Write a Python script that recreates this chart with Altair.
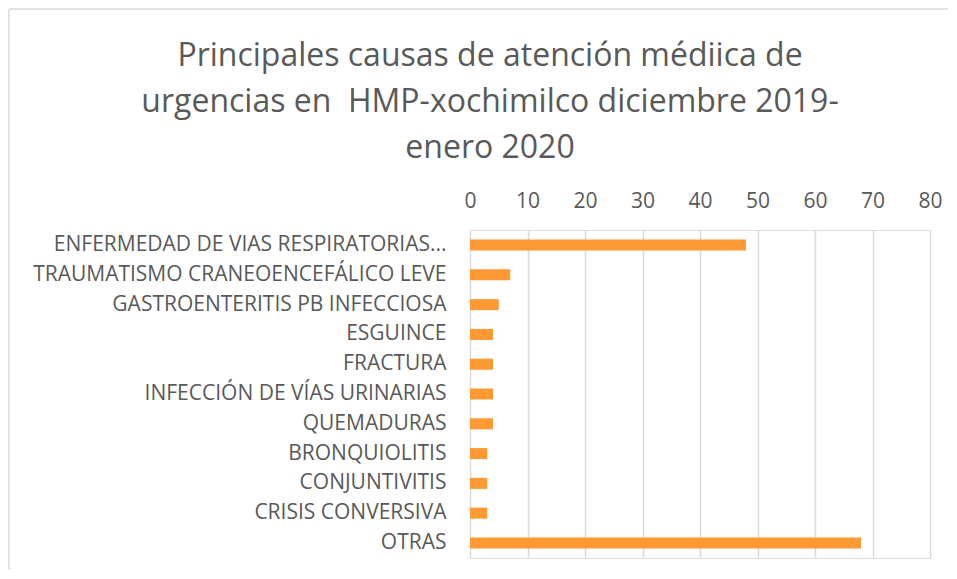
import altair as alt
import pandas as pd

categories = [
    "ENFERMEDAD DE VIAS RESPIRATORIAS...",
    "TRAUMATISMO CRANEOENCEFÁLICO LEVE\u00a0",
    "GASTROENTERITIS PB INFECCIOSA",
    "ESGUINCE\u00a0",
    "FRACTURA\u00a0",
    "INFECCIÓN DE VÍAS URINARIAS",
    "QUEMADURAS",
    "BRONQUIOLITIS",
    "CONJUNTIVITIS",
    "CRISIS CONVERSIVA",
    "OTRAS",
]
values = [48, 7, 5, 4, 4, 4, 4, 3, 3, 3, 68]
x_ticks = [0, 10, 20, 30, 40, 50, 60, 70, 80]
title_lines = [
    "Principales causas de atención médiica de",
    "urgencias en \u00a0HMP-xochimilco diciembre 2019-",
    "enero 2020",
]

df = pd.DataFrame({"causa": categories, "valor": values})

FONT = "Open Sans"
GRAY = "#595959"
GRID = "#D9D9D9"

bars = alt.Chart(df).mark_bar(color="#FF9933").encode(
    x=alt.X(
        "valor:Q",
        scale=alt.Scale(domain=[0, 80], nice=False),
        axis=alt.Axis(
            orient="top",
            values=x_ticks,
            title=None,
            grid=True,
            gridColor=GRID,
            gridWidth=1.5,
            domain=False,
            ticks=False,
            labelFlush=False,
            labelPadding=19,
            labelFontSize=21,
            labelColor=GRAY,
            labelFont=FONT,
        ),
    ),
    y=alt.Y(
        "causa:N",
        sort=categories,
        scale=alt.Scale(paddingInner=0.63, paddingOuter=0.32),
        axis=alt.Axis(
            title=None,
            domain=False,
            ticks=False,
            labelPadding=24,
            labelFontSize=21,
            labelColor=GRAY,
            labelFont=FONT,
            labelLimit=500,
        ),
    ),
)

frame_data = alt.Data(values=[{"k": 0}])
left_rule = alt.Chart(frame_data).mark_rule(color=GRID, strokeWidth=1.5).encode(
    x=alt.value(-461), y=alt.value(-221), y2=alt.value(340)
)
top_rule = alt.Chart(frame_data).mark_rule(color=GRID, strokeWidth=1.5).encode(
    x=alt.value(-461), x2=alt.value(478), y=alt.value(-221)
)

chart = alt.layer(left_rule, top_rule, bars).properties(
    width=460,
    height=328,
    padding=0,
    title=alt.TitleParams(
        text=title_lines,
        fontSize=32,
        font=FONT,
        fontWeight="normal",
        color=GRAY,
        lineHeight=46,
        anchor="middle",
        dx=-210,
        offset=-157,
    ),
).configure_view(stroke=None).configure(background="white")

chart.save("out.html", embed_options={"renderer": "svg", "actions": False})
